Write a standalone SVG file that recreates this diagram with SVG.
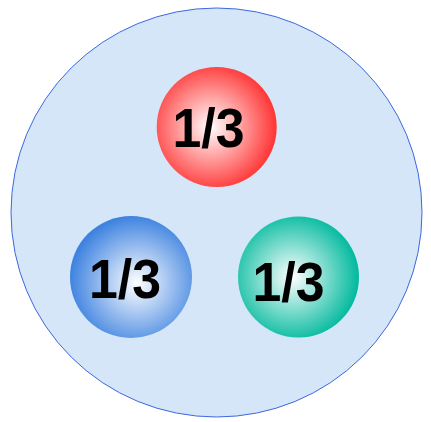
<svg xmlns="http://www.w3.org/2000/svg" width="431" height="422" viewBox="0 0 431 422">
<style>
.lbl{font-family:"Liberation Sans",Arial,sans-serif;font-weight:bold;font-size:56px;fill:#000;text-anchor:middle}
</style>
<defs>
<radialGradient id="gRed" cx="0.45" cy="0.5" r="0.55">
<stop offset="0" stop-color="#ffffff"/>
<stop offset="1" stop-color="#ff3333"/>
</radialGradient>
<radialGradient id="gBlue" cx="0.55" cy="0.55" r="0.55">
<stop offset="0" stop-color="#ffffff"/>
<stop offset="1" stop-color="#3f83e0"/>
</radialGradient>
<radialGradient id="gTeal" cx="0.45" cy="0.5" r="0.55">
<stop offset="0" stop-color="#ffffff"/>
<stop offset="1" stop-color="#00b99d"/>
</radialGradient>
</defs>
<g id="container">
<ellipse cx="216.5" cy="212.5" rx="205.5" ry="204.5" fill="#d4e6f7" stroke="#3d68e0" stroke-width="1"/>
</g>
<g id="red">
<circle cx="216.7" cy="127" r="60" fill="url(#gRed)"/>
<text class="lbl" x="208.5" y="147" textLength="72" lengthAdjust="spacingAndGlyphs">1/3</text>
</g>
<g id="blue">
<circle cx="131" cy="277" r="61" fill="url(#gBlue)"/>
<text class="lbl" x="125" y="298" textLength="72" lengthAdjust="spacingAndGlyphs">1/3</text>
</g>
<g id="teal">
<circle cx="298.5" cy="277" r="60.5" fill="url(#gTeal)"/>
<text class="lbl" x="288.5" y="301" textLength="72" lengthAdjust="spacingAndGlyphs">1/3</text>
</g>
<g id="connectors"/>
</svg>
